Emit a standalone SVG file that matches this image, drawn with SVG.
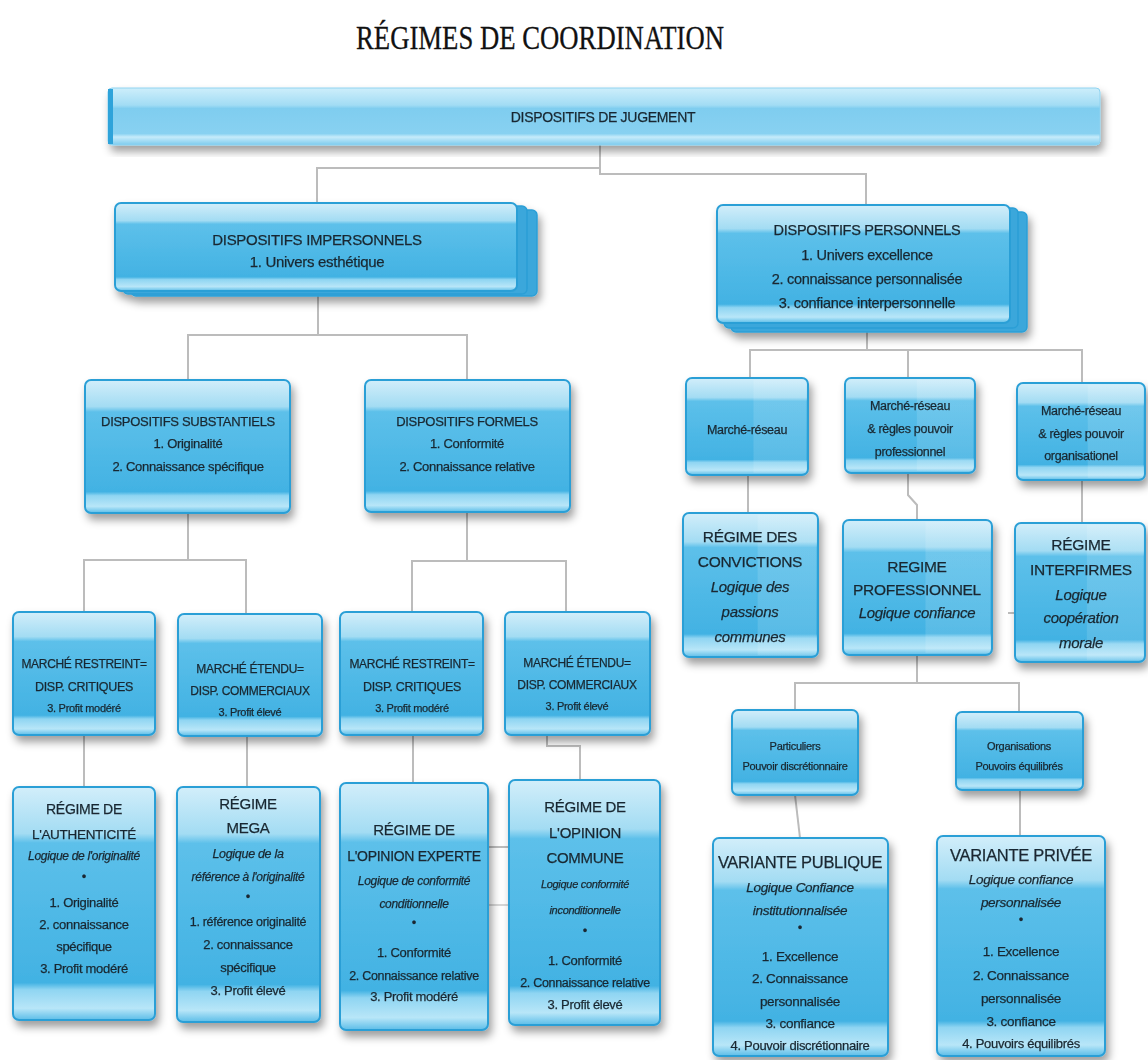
<svg xmlns="http://www.w3.org/2000/svg" width="1148" height="1060" viewBox="0 0 1148 1060">
<defs>
<linearGradient id="g" x1="0" y1="0" x2="0" y2="1">
<stop offset="0" stop-color="#d2eefa"/>
<stop offset="0.2" stop-color="#a3dcf3"/>
<stop offset="0.24" stop-color="#5dc0ea"/>
<stop offset="0.84" stop-color="#42b2e3"/>
<stop offset="0.87" stop-color="#8fd5f2"/>
<stop offset="0.95" stop-color="#b8e6f8"/>
<stop offset="1" stop-color="#5bbde8"/>
</linearGradient>
<linearGradient id="gbar" x1="0" y1="0" x2="0" y2="1">
<stop offset="0" stop-color="#cdeefb"/>
<stop offset="0.3" stop-color="#a2dcf4"/>
<stop offset="0.36" stop-color="#7fcdef"/>
<stop offset="0.8" stop-color="#88d1f1"/>
<stop offset="0.86" stop-color="#c6ebfa"/>
<stop offset="1" stop-color="#7ccbee"/>
</linearGradient>
<linearGradient id="sheen" x1="0" y1="0" x2="1" y2="0">
<stop offset="0" stop-color="#ffffff" stop-opacity="0"/>
<stop offset="0.55" stop-color="#ffffff" stop-opacity="0"/>
<stop offset="0.56" stop-color="#ffffff" stop-opacity="0.12"/>
<stop offset="1" stop-color="#ffffff" stop-opacity="0.12"/>
</linearGradient>
<filter id="sh" x="-10%" y="-10%" width="125%" height="130%">
<feDropShadow dx="3" dy="6" stdDeviation="4" flood-color="#000" flood-opacity="0.38"/>
</filter>
</defs>
<style>
.box{fill:url(#g);stroke:#2c9fd6;stroke-width:2}
.sn{fill:url(#sheen);stroke:none}
.back{fill:#3aa7db;stroke:#2c9fd6;stroke-width:1.5}
.t{font-family:"Liberation Sans",Arial,sans-serif;fill:#1a2831;stroke:#1a2831;stroke-width:0.25px;text-anchor:middle;letter-spacing:-0.3px}
.i{font-style:italic}
.c{fill:none;stroke:#bcbcbc;stroke-width:2}
</style>
<rect width="1148" height="1060" fill="#ffffff"/>
<text x="540" y="49" font-family="'Liberation Serif','Times New Roman',serif" font-size="34" fill="#111" stroke="#111" stroke-width="0.3" text-anchor="middle" textLength="368" lengthAdjust="spacingAndGlyphs">RÉGIMES DE COORDINATION</text>

<g id="connectors">
<path class="c" d="M600,145 V174 H866 V205"/>
<path class="c" d="M600,168 H317 V203"/>
<path class="c" d="M318,293 V335 M188,380 V335 H467 V380"/>
<path class="c" d="M188,513 V560 M84,612 V560 H246 V614"/>
<path class="c" d="M467,512 V561 M412,612 V561 H566 V612"/>
<path class="c" d="M84,735 V787"/>
<path class="c" d="M247,736 V787"/>
<path class="c" d="M413,735 V783"/>
<path class="c" d="M547,735 V746 H580 V780"/>
<path class="c" d="M488,847 H523" stroke-width="1.5"/>
<path class="c" d="M488,905 H523" stroke-width="1.5" opacity="0.6"/>
<path class="c" d="M867,323 V350 M750,378 V350 H1082 V383 M908,350 V378"/>
<path class="c" d="M748,475 V513"/>
<path class="c" d="M908,473 V495 L917,505 V520"/>
<path class="c" d="M1082,480 V523"/>
<path class="c" d="M1008,613 H1030" stroke-width="1.5"/>
<path class="c" d="M917,655 V683 M795,710 V683 H1019 V712"/>
<path class="c" d="M795,795 L800,838"/>
<path class="c" d="M1020,790 V836"/>
</g>

<g id="n-jugement" filter="url(#sh)">
<rect x="108" y="88" width="992" height="57" rx="4" fill="url(#gbar)" stroke="#8fd3f0" stroke-width="1"/>
<rect x="108" y="89" width="5" height="55" fill="#2fa3da"/>
<text class="t" x="603" y="122" font-size="14" letter-spacing="-0.6">DISPOSITIFS DE JUGEMENT</text>
</g>

<g id="n-impersonnels" filter="url(#sh)">
<rect class="back" x="131" y="210" width="406" height="86" rx="5"/>
<rect class="back" x="123" y="206" width="404" height="88" rx="5"/>
<rect class="box" x="115" y="203" width="402" height="88" rx="6"/>
<text class="t" x="317" y="245" font-size="15">DISPOSITIFS IMPERSONNELS</text>
<text class="t" x="317" y="267" font-size="15">1. Univers esthétique</text>
</g>

<g id="n-personnels" filter="url(#sh)">
<rect class="back" x="731" y="212" width="296" height="120" rx="5"/>
<rect class="back" x="724" y="208" width="294" height="120" rx="5"/>
<rect class="box" x="717" y="205" width="293" height="118" rx="6"/>
<text class="t" x="867" y="235" font-size="14.5">DISPOSITIFS PERSONNELS</text>
<text class="t" x="867" y="260" font-size="14.5">1. Univers excellence</text>
<text class="t" x="867" y="284" font-size="14.5">2. connaissance personnalisée</text>
<text class="t" x="867" y="308" font-size="14.5">3. confiance interpersonnelle</text>
</g>

<g id="n-substantiels" filter="url(#sh)">
<rect class="box" x="85" y="380" width="205" height="133" rx="6"/>
<text class="t" x="188" y="426" font-size="13">DISPOSITIFS SUBSTANTIELS</text>
<text class="t" x="188" y="448" font-size="13">1. Originalité</text>
<text class="t" x="188" y="471" font-size="13">2. Connaissance spécifique</text>
</g>

<g id="n-formels" filter="url(#sh)">
<rect class="box" x="365" y="380" width="205" height="132" rx="6"/>
<text class="t" x="467" y="426" font-size="13">DISPOSITIFS FORMELS</text>
<text class="t" x="467" y="448" font-size="13">1. Conformité</text>
<text class="t" x="467" y="471" font-size="13">2. Connaissance relative</text>
</g>

<g id="n-marche-restreint-1" filter="url(#sh)">
<rect class="box" x="13" y="612" width="142" height="123" rx="6"/>
<text class="t" x="84" y="668" font-size="12">MARCHÉ RESTREINT=</text>
<text class="t" x="84" y="691" font-size="12.5">DISP. CRITIQUES</text>
<text class="t" x="84" y="712" font-size="11">3. Profit modéré</text>
</g>

<g id="n-marche-etendu-1" filter="url(#sh)">
<rect class="box" x="178" y="614" width="144" height="122" rx="6"/>
<text class="t" x="250" y="673" font-size="12">MARCHÉ ÉTENDU=</text>
<text class="t" x="250" y="695" font-size="12">DISP. COMMERCIAUX</text>
<text class="t" x="250" y="716" font-size="11">3. Profit élevé</text>
</g>

<g id="n-marche-restreint-2" filter="url(#sh)">
<rect class="box" x="340" y="612" width="143" height="123" rx="6"/>
<text class="t" x="412" y="668" font-size="12">MARCHÉ RESTREINT=</text>
<text class="t" x="412" y="691" font-size="12.5">DISP. CRITIQUES</text>
<text class="t" x="412" y="712" font-size="11">3. Profit modéré</text>
</g>

<g id="n-marche-etendu-2" filter="url(#sh)">
<rect class="box" x="505" y="612" width="145" height="123" rx="6"/>
<text class="t" x="577" y="667" font-size="12">MARCHÉ ÉTENDU=</text>
<text class="t" x="577" y="689" font-size="12">DISP. COMMERCIAUX</text>
<text class="t" x="577" y="710" font-size="11">3. Profit élevé</text>
</g>

<g id="n-authenticite" filter="url(#sh)">
<rect class="box" x="13" y="787" width="142" height="233" rx="6"/>
<text class="t" x="84" y="814" font-size="14">RÉGIME DE</text>
<text class="t" x="84" y="839" font-size="13.5">L'AUTHENTICITÉ</text>
<text class="t i" x="84" y="860" font-size="12">Logique de l'originalité</text>
<text class="t" x="84" y="881" font-size="13">•</text>
<text class="t" x="84" y="907" font-size="13">1. Originalité</text>
<text class="t" x="84" y="929" font-size="13">2. connaissance</text>
<text class="t" x="84" y="951" font-size="13">spécifique</text>
<text class="t" x="84" y="973" font-size="13">3. Profit modéré</text>
</g>

<g id="n-mega" filter="url(#sh)">
<rect class="box" x="177" y="787" width="143" height="235" rx="6"/>
<text class="t" x="248" y="809" font-size="15">RÉGIME</text>
<text class="t" x="248" y="833" font-size="15">MEGA</text>
<text class="t i" x="248" y="858" font-size="12.5">Logique de la</text>
<text class="t i" x="248" y="881" font-size="12">référence à l'originalité</text>
<text class="t" x="248" y="901" font-size="13">•</text>
<text class="t" x="248" y="926" font-size="12.5">1. référence originalité</text>
<text class="t" x="248" y="949" font-size="13">2. connaissance</text>
<text class="t" x="248" y="972" font-size="13">spécifique</text>
<text class="t" x="248" y="995" font-size="13">3. Profit élevé</text>
</g>

<g id="n-opinion-experte" filter="url(#sh)">
<rect class="box" x="340" y="783" width="148" height="247" rx="6"/>
<text class="t" x="414" y="835" font-size="15">RÉGIME DE</text>
<text class="t" x="414" y="861" font-size="14" letter-spacing="-0.6">L'OPINION EXPERTE</text>
<text class="t i" x="414" y="885" font-size="12">Logique de  conformité</text>
<text class="t i" x="414" y="908" font-size="12">conditionnelle</text>
<text class="t" x="414" y="927" font-size="13">•</text>
<text class="t" x="414" y="957" font-size="13">1. Conformité</text>
<text class="t" x="414" y="980" font-size="12.5">2. Connaissance relative</text>
<text class="t" x="414" y="1001" font-size="13">3. Profit modéré</text>
</g>

<g id="n-opinion-commune" filter="url(#sh)">
<rect class="box" x="509" y="780" width="151" height="245" rx="6"/>
<text class="t" x="585" y="812" font-size="15">RÉGIME DE</text>
<text class="t" x="585" y="838" font-size="15">L'OPINION</text>
<text class="t" x="585" y="863" font-size="15">COMMUNE</text>
<text class="t i" x="585" y="888" font-size="11">Logique conformité</text>
<text class="t i" x="585" y="914" font-size="11">inconditionnelle</text>
<text class="t" x="585" y="935" font-size="13">•</text>
<text class="t" x="585" y="965" font-size="13">1. Conformité</text>
<text class="t" x="585" y="987" font-size="12.5">2. Connaissance relative</text>
<text class="t" x="585" y="1009" font-size="13">3. Profit élevé</text>
</g>

<g id="n-marche-reseau" filter="url(#sh)">
<rect class="box" x="686" y="378" width="122" height="97" rx="6"/>
<rect class="sn" x="688" y="380" width="118" height="93"/>
<text class="t" x="747" y="434" font-size="12.5">Marché-réseau</text>
</g>

<g id="n-marche-reseau-pro" filter="url(#sh)">
<rect class="box" x="845" y="378" width="130" height="95" rx="6"/>
<rect class="sn" x="847" y="380" width="126" height="91"/>
<text class="t" x="910" y="410" font-size="12.5">Marché-réseau</text>
<text class="t" x="910" y="433" font-size="12.5">&amp; règles pouvoir</text>
<text class="t" x="910" y="456" font-size="12.5">professionnel</text>
</g>

<g id="n-marche-reseau-org" filter="url(#sh)">
<rect class="box" x="1017" y="383" width="128" height="97" rx="6"/>
<rect class="sn" x="1019" y="385" width="124" height="93"/>
<text class="t" x="1081" y="415" font-size="12.5">Marché-réseau</text>
<text class="t" x="1081" y="438" font-size="12.5">&amp; règles pouvoir</text>
<text class="t" x="1081" y="460" font-size="12.5">organisationel</text>
</g>

<g id="n-convictions" filter="url(#sh)">
<rect class="box" x="683" y="513" width="135" height="144" rx="6"/>
<rect class="sn" x="685" y="515" width="131" height="140"/>
<text class="t" x="750" y="542" font-size="15.5">RÉGIME DES</text>
<text class="t" x="750" y="567" font-size="15.5">CONVICTIONS</text>
<text class="t i" x="750" y="592" font-size="15">Logique des</text>
<text class="t i" x="750" y="617" font-size="15">passions</text>
<text class="t i" x="750" y="642" font-size="15">communes</text>
</g>

<g id="n-professionnel" filter="url(#sh)">
<rect class="box" x="843" y="520" width="149" height="135" rx="6"/>
<rect class="sn" x="845" y="522" width="145" height="131"/>
<text class="t" x="917" y="572" font-size="15.5">REGIME</text>
<text class="t" x="917" y="595" font-size="15.5">PROFESSIONNEL</text>
<text class="t i" x="917" y="618" font-size="15">Logique confiance</text>
</g>

<g id="n-interfirmes" filter="url(#sh)">
<rect class="box" x="1015" y="523" width="130" height="139" rx="6"/>
<rect class="sn" x="1017" y="525" width="126" height="135"/>
<text class="t" x="1081" y="550" font-size="15.5">RÉGIME</text>
<text class="t" x="1081" y="575" font-size="15.5">INTERFIRMES</text>
<text class="t i" x="1081" y="600" font-size="15">Logique</text>
<text class="t i" x="1081" y="623" font-size="15">coopération</text>
<text class="t i" x="1081" y="648" font-size="15">morale</text>
</g>

<g id="n-particuliers" filter="url(#sh)">
<rect class="box" x="732" y="710" width="126" height="85" rx="6"/>
<text class="t" x="795" y="750" font-size="11">Particuliers</text>
<text class="t" x="795" y="770" font-size="11">Pouvoir discrétionnaire</text>
</g>

<g id="n-organisations" filter="url(#sh)">
<rect class="box" x="956" y="712" width="127" height="78" rx="6"/>
<text class="t" x="1019" y="750" font-size="11">Organisations</text>
<text class="t" x="1019" y="770" font-size="11">Pouvoirs équilibrés</text>
</g>

<g id="n-variante-publique" filter="url(#sh)">
<rect class="box" x="713" y="838" width="175" height="218" rx="6"/>
<text class="t" x="800" y="868" font-size="16.5" letter-spacing="-0.6">VARIANTE PUBLIQUE</text>
<text class="t i" x="800" y="892" font-size="13.5">Logique Confiance</text>
<text class="t i" x="800" y="915" font-size="13.5">institutionnalisée</text>
<text class="t" x="800" y="932" font-size="13">•</text>
<text class="t" x="800" y="961" font-size="13.5">1. Excellence</text>
<text class="t" x="800" y="983" font-size="13.5">2. Connaissance</text>
<text class="t" x="800" y="1006" font-size="13.5">personnalisée</text>
<text class="t" x="800" y="1028" font-size="13.5">3. confiance</text>
<text class="t" x="800" y="1050" font-size="13" letter-spacing="-0.5">4. Pouvoir discrétionnaire</text>
</g>

<g id="n-variante-privee" filter="url(#sh)">
<rect class="box" x="937" y="836" width="168" height="220" rx="6"/>
<text class="t" x="1021" y="861" font-size="16.5" letter-spacing="-0.6">VARIANTE PRIVÉE</text>
<text class="t i" x="1021" y="884" font-size="13.5">Logique confiance</text>
<text class="t i" x="1021" y="907" font-size="13.5">personnalisée</text>
<text class="t" x="1021" y="924" font-size="13">•</text>
<text class="t" x="1021" y="956" font-size="13.5">1. Excellence</text>
<text class="t" x="1021" y="980" font-size="13.5">2. Connaissance</text>
<text class="t" x="1021" y="1003" font-size="13.5">personnalisée</text>
<text class="t" x="1021" y="1026" font-size="13.5">3. confiance</text>
<text class="t" x="1021" y="1048" font-size="13" letter-spacing="-0.5">4. Pouvoirs équilibrés</text>
</g>
</svg>
